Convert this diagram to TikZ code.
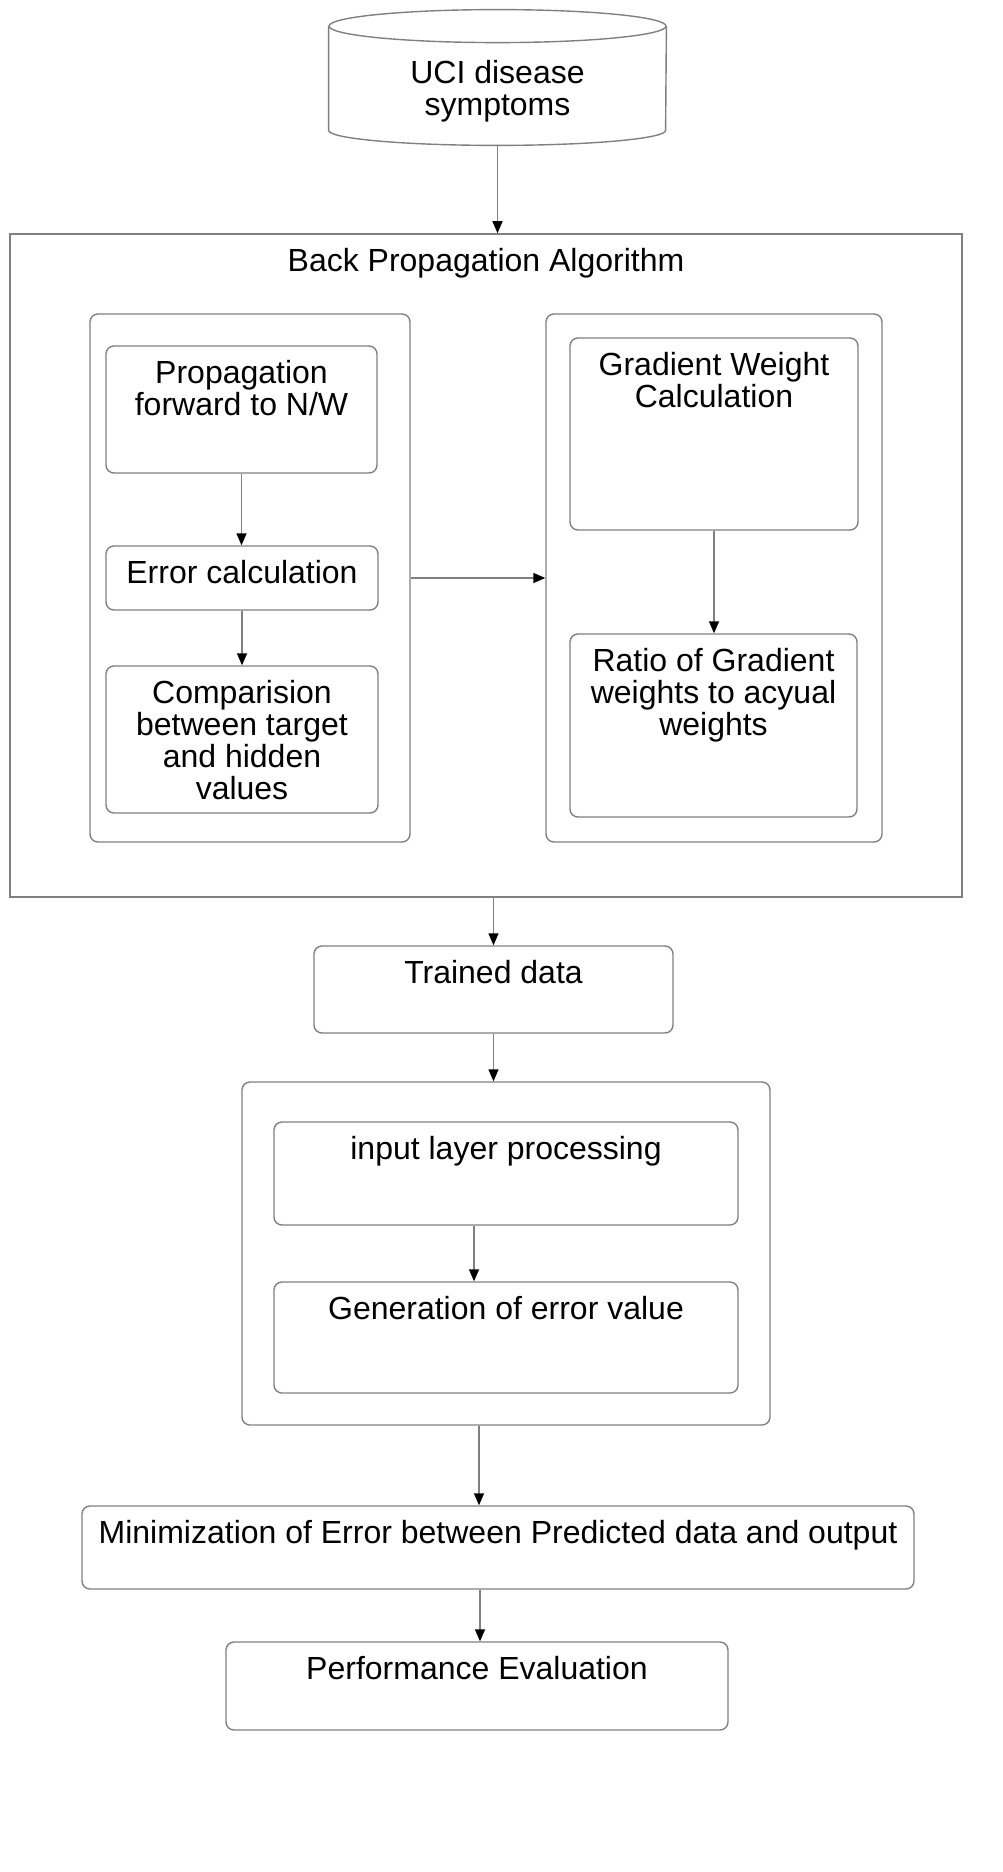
\documentclass[tikz,border=0pt]{standalone}
\usepackage{fontspec}
\setmainfont{Liberation Sans}
\usetikzlibrary{arrows.meta,positioning}
\definecolor{linegray}{HTML}{808080}
\tikzset{
    box/.style={draw=linegray, line width=0.7pt, rounded corners=4pt, inner sep=0pt},
    outer/.style={draw=linegray, line width=0.8pt, inner sep=0pt},
    txt/.style={align=center, inner sep=0pt, font=\fontsize{16pt}{16pt}\selectfont},
    arr/.style={draw=linegray, line width=0.7pt, -{Triangle[length=6pt,width=5pt,color=black]}}
}

\begin{document}
\begin{tikzpicture}[x=0.5pt, y=-0.5pt]
            \useasboundingbox (0,0) rectangle (1002,1872);
            % Data source
            \node[inner sep=0pt, minimum width=168.5pt, minimum height=67.5pt] (db) at (497.5,77.5) {};
            \draw[linegray, line width=0.7pt] ([yshift=-8.25pt]db.north) ellipse [x radius=84.25pt, y radius=8.25pt];
            \draw[linegray, line width=0.7pt] ([yshift=-8.25pt]db.north west) -- ([yshift=7.5pt]db.south west)
                arc[start angle=180, end angle=360, x radius=84.25pt, y radius=7.5pt] -- ([yshift=-8.25pt]db.north east);
            \node[txt, below=25pt of db.north] (db-t) {UCI disease\\symptoms};
            % Back propagation block
            \node[outer, minimum width=476pt, minimum height=331.5pt] (bpa) at (486,565.5) {};
            \node[txt, below=7.25pt of bpa.north] (bpa-t) {Back Propagation Algorithm};
            \node[box, minimum width=160pt, minimum height=264pt] (fwdgrp) at (250,578) {};
            \node[box, minimum width=168pt, minimum height=264pt] (gradgrp) at (714,578) {};
            \node[box, minimum width=135.5pt, minimum height=63.5pt] (fwd) at (241.5,409.5) {};
            \node[txt, below=7.25pt of fwd.north] (fwd-t) {Propagation\\forward to N/W};
            \node[box, minimum width=136pt, minimum height=32pt] (err) at (242,578) {};
            \node[txt, below=7.25pt of err.north] (err-t) {Error calculation};
            \node[box, minimum width=136pt, minimum height=73.5pt] (cmp) at (242,739.5) {};
            \node[txt, below=7.25pt of cmp.north] (cmp-t) {Comparision\\between target\\and hidden\\values};
            \node[box, minimum width=144pt, minimum height=96pt] (grad) at (714,434) {};
            \node[txt, below=7.25pt of grad.north] (grad-t) {Gradient Weight\\Calculation};
            \node[box, minimum width=143.5pt, minimum height=91.5pt] (ratio) at (713.5,725.5) {};
            \node[txt, below=7.25pt of ratio.north] (ratio-t) {Ratio of Gradient\\weights to acyual\\weights};
            % Training and network
            \node[box, minimum width=179.5pt, minimum height=43.5pt] (trained) at (493.5,989.5) {};
            \node[txt, below=7.25pt of trained.north] (trained-t) {Trained data};
            \node[box, minimum width=264pt, minimum height=171.5pt] (netgrp) at (506,1253.5) {};
            \node[box, minimum width=232pt, minimum height=51.5pt] (input) at (506,1173.5) {};
            \node[txt, below=7.25pt of input.north] (input-t) {input layer processing};
            \node[box, minimum width=232pt, minimum height=55.5pt] (gen) at (506,1337.5) {};
            \node[txt, below=7.25pt of gen.north] (gen-t) {Generation of error value};
            % Output
            \node[box, minimum width=416pt, minimum height=41.5pt] (min) at (498,1547.5) {};
            \node[txt, below=7.25pt of min.north] (min-t) {Minimization of Error between Predicted data and output};
            \node[box, minimum width=251pt, minimum height=44pt] (perf) at (477,1686) {};
            \node[txt, below=7.25pt of perf.north] (perf-t) {Performance Evaluation};
            % Arrows
            \draw[arr] (db.south) -- (db.south |- bpa.north);
            \foreach \a/\b in {fwd/err, err/cmp, grad/ratio, trained/netgrp} {
                \draw[arr] (\a.south) -- (\a.south |- \b.north);
            }
            \draw[arr] (fwdgrp.east) -- (gradgrp.west);
            \draw[arr] (trained.north |- bpa.south) -- (trained.north);
            \draw[arr] ([xshift=-16pt]input.south) -- ([xshift=-16pt]input.south |- gen.north);
            \draw[arr] ([xshift=-13.5pt]netgrp.south) -- ([xshift=-13.5pt]netgrp.south |- min.north);
            \draw[arr] ([xshift=-9pt]min.south) -- ([xshift=-9pt]min.south |- perf.north);
        \end{tikzpicture}
\end{document}
